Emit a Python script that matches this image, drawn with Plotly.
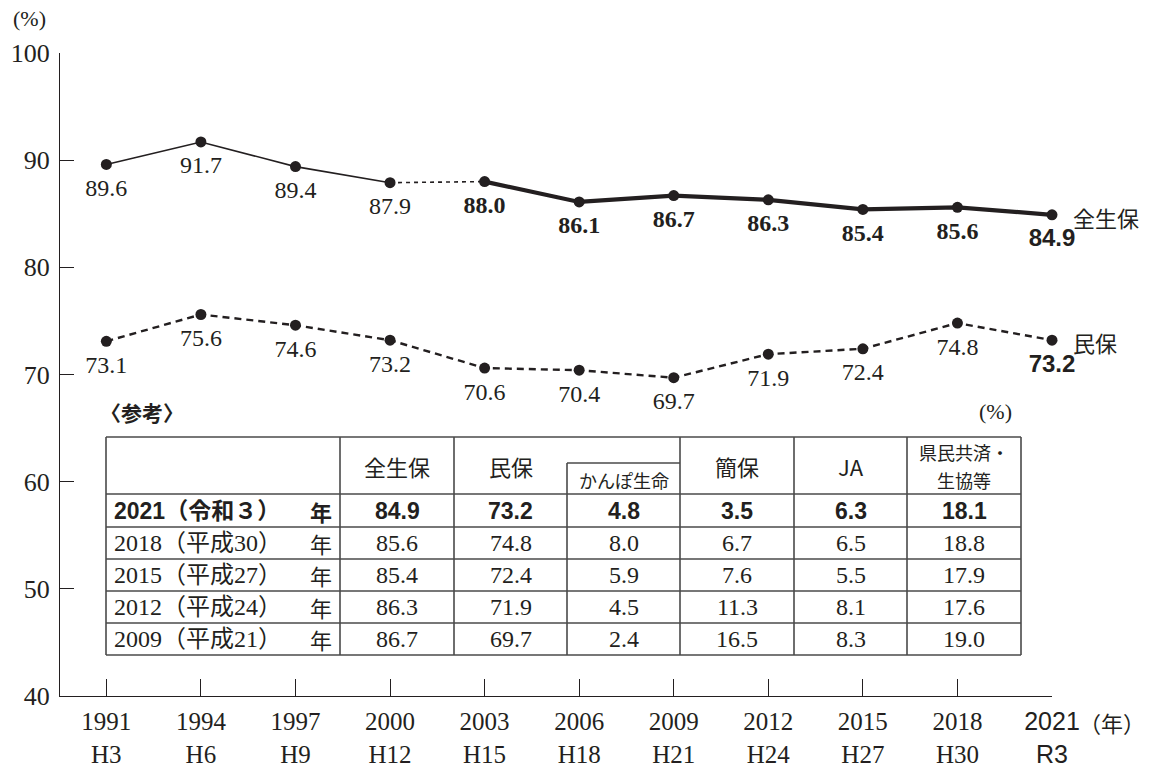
import plotly.graph_objects as go

# ---------------- data ----------------
years = ["1991", "1994", "1997", "2000", "2003", "2006", "2009", "2012", "2015", "2018", "2021"]
eras = ["H3", "H6", "H9", "H12", "H15", "H18", "H21", "H24", "H27", "H30", "R3"]
zenseiho = [89.6, 91.7, 89.4, 87.9, 88.0, 86.1, 86.7, 86.3, 85.4, 85.6, 84.9]
minpo = [73.1, 75.6, 74.6, 73.2, 70.6, 70.4, 69.7, 71.9, 72.4, 74.8, 73.2]

table_headers = ["全生保", "民保", "かんぽ生命", "簡保", "JA", "県民共済・<br>生協等"]
table_rows = ["2021（令和３）", "2018（平成30）", "2015（平成27）", "2012（平成24）", "2009（平成21）"]
tbl_zenseiho = [84.9, 85.6, 85.4, 86.3, 86.7]
tbl_minpo = [73.2, 74.8, 72.4, 71.9, 69.7]
tbl_kanpo_seimei = [4.8, 8.0, 5.9, 4.5, 2.4]
tbl_kanpo = [3.5, 6.7, 7.6, 11.3, 16.5]
tbl_ja = [6.3, 6.5, 5.5, 8.1, 8.3]
tbl_kenmin = [18.1, 18.8, 17.9, 17.6, 19.0]

# ---------------- styles ----------------
INK = "#231f20"
SERIF = "Liberation Serif, Noto Sans CJK JP, serif"
SANS = "Liberation Sans, Noto Sans CJK JP, sans-serif"
CJK = "Noto Sans CJK JP, sans-serif"

L, R, T, B = 60, 1052, 53, 696
W, H = 1150, 769


def px(x):
    return (x - L) / (R - L)


def py(y):
    return (B - y) / (B - T)


xs = list(range(len(years)))
fig = go.Figure()

# 全生保 segments: thin solid, dotted, thick solid
fig.add_trace(go.Scatter(x=xs[0:4], y=zenseiho[0:4], mode="lines",
                         line=dict(color=INK, width=1.6), hoverinfo="skip", showlegend=False))
fig.add_trace(go.Scatter(x=xs[3:5], y=zenseiho[3:5], mode="lines",
                         line=dict(color=INK, width=1.6, dash="4px,4px"), hoverinfo="skip", showlegend=False))
fig.add_trace(go.Scatter(x=xs[4:], y=zenseiho[4:], mode="lines",
                         line=dict(color=INK, width=4.2), hoverinfo="skip", showlegend=False))

# 民保 line
fig.add_trace(go.Scatter(x=xs, y=minpo, mode="lines", name="民保",
                         line=dict(color=INK, width=2.4, dash="7px,5px"),
                         hoverinfo="skip", showlegend=False))

# labels (invisible larger markers push the text a bit further below the points)
z_fam = [SERIF] * 10 + [SANS]
z_wt = ["normal"] * 4 + ["bold"] * 6 + ["bold"]
fig.add_trace(go.Scatter(
    x=xs, y=zenseiho, mode="markers+text", name="全生保",
    marker=dict(color="rgba(0,0,0,0)", size=20),
    text=[f"{v:.1f}" for v in zenseiho], textposition="bottom center",
    textfont=dict(family=z_fam, size=24, color=INK, weight=z_wt),
    cliponaxis=False, hoverinfo="skip", showlegend=False))

m_fam = [SERIF] * 10 + [SANS]
m_wt = ["normal"] * 10 + ["bold"]
fig.add_trace(go.Scatter(
    x=xs, y=minpo, mode="markers+text", name="民保",
    marker=dict(color="rgba(0,0,0,0)", size=20),
    text=[f"{v:.1f}" for v in minpo], textposition="bottom center",
    textfont=dict(family=m_fam, size=24, color=INK, weight=m_wt),
    cliponaxis=False, hoverinfo="skip", showlegend=False))

# markers
for series, nm in ((zenseiho, "全生保"), (minpo, "民保")):
    fig.add_trace(go.Scatter(x=xs, y=series, mode="markers", name=nm,
                             marker=dict(color=INK, size=11), cliponaxis=False,
                             showlegend=False))

# series names
fig.add_annotation(x=xs[-1], y=zenseiho[-1], xref="x", yref="y", text="全生保", showarrow=False,
                   xanchor="left", yanchor="middle", xshift=19, yshift=-2,
                   font=dict(family=CJK, size=22, color=INK))
fig.add_annotation(x=xs[-1], y=minpo[-1], xref="x", yref="y", text="民保", showarrow=False,
                   xanchor="left", yanchor="middle", xshift=19, yshift=-2,
                   font=dict(family=CJK, size=22, color=INK))

# tick labels
ticktext = [f"{y}<br>{e}" for y, e in zip(years, eras)]
ticktext[-1] = f"<span style='font-family:Liberation Sans'>{years[-1]}<br>{eras[-1]}</span>"

fig.update_xaxes(range=[-0.49, len(years) - 1], tickvals=xs, ticktext=ticktext,
                 ticks="inside", ticklen=17, tickwidth=1.2, tickcolor=INK,
                 showline=True, linecolor=INK, linewidth=1.2, showgrid=False, zeroline=False,
                 tickfont=dict(family=SERIF, size=25, color=INK), ticklabelstandoff=3)
fig.update_yaxes(range=[40, 100], tickvals=[40, 50, 60, 70, 80, 90, 100],
                 ticks="inside", ticklen=14, tickwidth=1.2, tickcolor=INK,
                 showline=True, linecolor=INK, linewidth=1.2, showgrid=False, zeroline=False,
                 tickfont=dict(family=SERIF, size=26, color=INK), ticklabelstandoff=4)

anns = []
anns.append(dict(x=px(1112), y=py(722), text="（年）", font=dict(family=CJK, size=22, color=INK)))
anns.append(dict(x=px(29), y=py(18), text="(%)", font=dict(family=SERIF, size=22, color=INK)))
anns.append(dict(x=px(995), y=py(412), text="(%)", font=dict(family=SERIF, size=22, color=INK)))
anns.append(dict(x=px(98), y=py(412), text="〈参考〉", xanchor="left",
                 font=dict(family=CJK, size=21, color=INK, weight="bold")))

# ---------------- table ----------------
tx0, tx1 = 106, 1021
ty0, ty1 = 437, 655
col_edges = [106, 340, 454, 567, 680, 794, 907, 1021]
row_edges = [494, 527, 559, 591, 623, 655]
sub_top = 463
shapes = []
lc = dict(color="#4a4a4a", width=1.6)


def seg(x0, y0, x1, y1):
    shapes.append(dict(type="line", xref="paper", yref="paper",
                       x0=px(x0), y0=py(y0), x1=px(x1), y1=py(y1), line=lc))


seg(tx0, ty0, tx1, ty0)
seg(tx0, ty1, tx1, ty1)
for e in row_edges[:-1]:
    seg(tx0, e, tx1, e)
for e in col_edges:
    if e == 567:
        seg(e, sub_top, e, ty1)
    else:
        seg(e, ty0, e, ty1)
seg(567, sub_top, 680, sub_top)

cols = [tbl_zenseiho, tbl_minpo, tbl_kanpo_seimei, tbl_kanpo, tbl_ja, tbl_kenmin]
centers = [(col_edges[i + 1] + col_edges[i + 2]) / 2 for i in range(6)]
head_y = [466, 466, 480, 466, 466, 466]
head_size = [22, 22, 18, 22, 22, 18]
for j, h in enumerate(table_headers):
    lines = h.split("<br>")
    n = len(lines)
    for k, ln in enumerate(lines):
        yy = head_y[j] + (k - (n - 1) / 2) * 28
        anns.append(dict(x=px(centers[j]), y=py(yy), text=ln,
                         font=dict(family=CJK, size=head_size[j], color=INK)))

for i, lab in enumerate(table_rows):
    yc = (row_edges[i] + row_edges[i + 1]) / 2
    if i == 0:
        f = dict(family=SANS, size=23, color=INK, weight="bold")
    else:
        f = dict(family=SERIF, size=24, color=INK)
    anns.append(dict(x=px(112), y=py(yc), text=lab, xanchor="left", font=f))
    anns.append(dict(x=px(334), y=py(yc), text="年", xanchor="right",
                     font=dict(family=CJK, size=22, color=INK, weight="bold" if i == 0 else "normal")))
    for j, c in enumerate(cols):
        anns.append(dict(x=px(centers[j]), y=py(yc), text=f"{c[i]:.1f}", font=f))

for a in anns:
    a.setdefault("xref", "paper")
    a.setdefault("yref", "paper")
    a.setdefault("showarrow", False)
    a.setdefault("xanchor", "center")
    a.setdefault("yanchor", "middle")

fig.update_layout(
    width=W, height=H, margin=dict(l=L, r=W - R, t=T, b=H - B, autoexpand=False),
    paper_bgcolor="white", plot_bgcolor="white",
    annotations=list(fig.layout.annotations) + anns, shapes=shapes,
    font=dict(family=SERIF, color=INK),
)

fig.write_html("out.html", config={"displayModeBar": False},
               post_script="document.body.style.margin='0px';")
